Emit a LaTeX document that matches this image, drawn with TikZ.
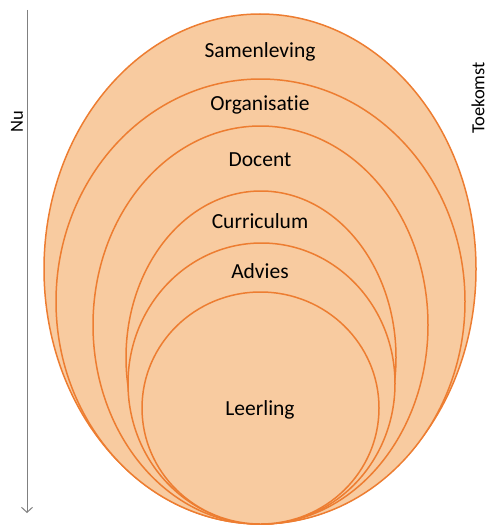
\documentclass[tikz,border=0pt]{standalone}
\usepackage{fontspec}
\setmainfont{Carlito}[Ligatures=NoCommon,RawFeature={-liga;-clig;-dlig}]
\usetikzlibrary{arrows.meta}
\definecolor{peach}{HTML}{F8CBA0}
\definecolor{orng}{HTML}{ED7D31}
\definecolor{arrowgray}{HTML}{808080}
\tikzset{
  ring/.style={draw=orng, fill=peach, line width=1.5pt},
  lbl/.style={font=\fontsize{21.5}{24}\selectfont, text=black},
  side/.style={font=\fontsize{18.5}{22}\selectfont, text=black, rotate=90},
}
\begin{document}
\begin{tikzpicture}[x=1pt,y=-1pt]
\useasboundingbox (0,0) rectangle (490,527);
\draw[ring] (260,269) ellipse [x radius=216, y radius=255];
\draw[ring] (260.5,301.5) ellipse [x radius=204.5, y radius=222.5];
\draw[ring] (260.5,325) ellipse [x radius=167.5, y radius=199];
\draw[ring] (261,357.5) ellipse [x radius=135, y radius=166.5];
\draw[ring] (261.5,383.5) ellipse [x radius=133.5, y radius=140.5];
\draw[ring] (260.5,408) ellipse [x radius=118.5, y radius=116];
\node[lbl] (samenleving) at (260,52) {Samenleving};
\node[lbl] (organisatie) at (260,105) {Organisat\kern0pt ie};
\node[lbl] (docent) at (260,160) {Docent};
\node[lbl] (curriculum) at (260,221) {Curriculum};
\node[lbl] (advies) at (260,271) {Advies};
\node[lbl] (leerling) at (260,410) {Leerling};
\coordinate (top) at (27,10);
\coordinate (bot) at (27,513);
\draw[arrowgray, line width=1pt, -{Straight Barb[length=5pt,width=11pt]}] (top) -- (bot);
\node[side] (nu) at (17,122) {Nu};
\node[side] (toekomst) at (478,98) {Toekomst};
\end{tikzpicture}
\end{document}
